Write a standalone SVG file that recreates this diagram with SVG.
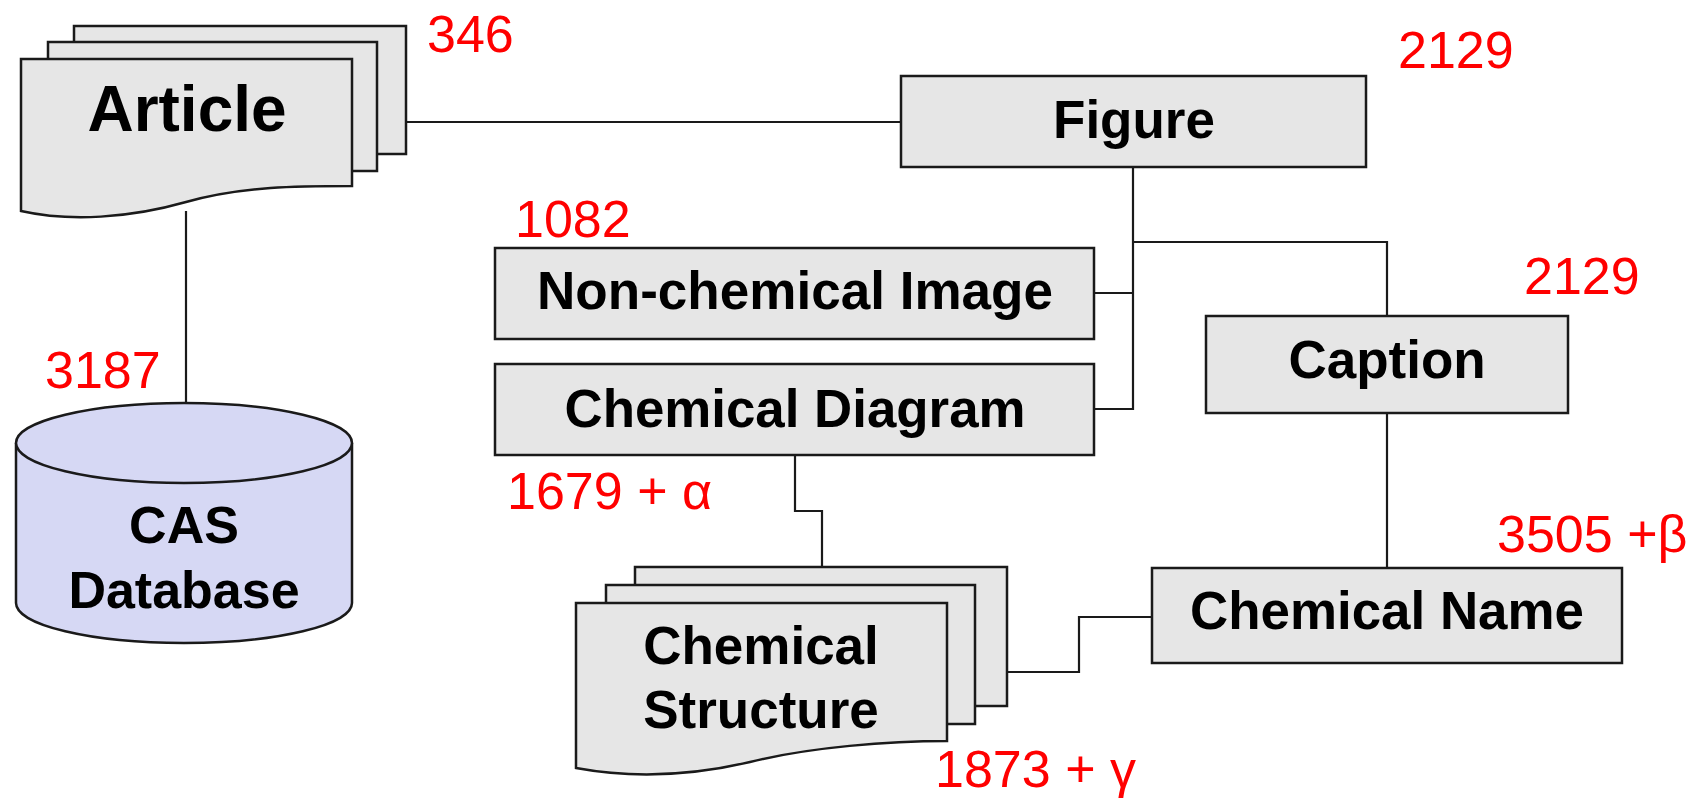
<svg xmlns="http://www.w3.org/2000/svg" width="1693" height="799" viewBox="0 0 1693 799">
<style>
.box{fill:#e6e6e6;stroke:#1a1a1a;stroke-width:2.5}
.cyl{fill:#d6d8f4;stroke:#1a1a1a;stroke-width:2.5}
.t{font-family:"Liberation Sans",Arial,sans-serif;font-weight:bold;font-size:53px;fill:#000;text-anchor:middle}
.n{font-family:"Liberation Sans",Arial,sans-serif;font-size:52px;fill:#ff0000}
.c{fill:none;stroke:#1a1a1a;stroke-width:2.2}
</style>
<rect width="1693" height="799" fill="#ffffff"/>
<g id="connectors">
<polyline class="c" points="406,122 902,122"/>
<polyline class="c" points="186,211 186,403"/>
<polyline class="c" points="1133,167 1133,409 1094,409"/>
<polyline class="c" points="1094,293 1133,293"/>
<polyline class="c" points="1133,242 1387,242 1387,316"/>
<polyline class="c" points="1387,413 1387,568"/>
<polyline class="c" points="795,455 795,511 822,511 822,567"/>
<polyline class="c" points="1007,672 1079,672 1079,617 1152,617"/>
</g>
<g id="article">
<rect class="box" x="74" y="26" width="332" height="128"/>
<rect class="box" x="48" y="42" width="329" height="129"/>
<path class="box" d="M21,59 H352 V186 C300,186 242,186 186,202 C130,218 70,222 21,211 Z"/>
<text class="t" x="187" y="131" style="font-size:64px">Article</text>
<text class="n" x="427" y="52">346</text>
</g>
<g id="cas-database">
<path class="cyl" d="M16,443 V603 A168,40 0 0 0 352,603 V443"/>
<ellipse class="cyl" cx="184" cy="443" rx="168" ry="40"/>
<text class="t" x="184" y="543" style="font-size:52px">CAS</text>
<text class="t" x="184" y="608" style="font-size:52px">Database</text>
<text class="n" x="45" y="388">3187</text>
</g>
<g id="figure">
<rect class="box" x="901" y="76" width="465" height="91"/>
<text class="t" x="1134" y="138">Figure</text>
<text class="n" x="1398" y="68">2129</text>
</g>
<g id="non-chemical-image">
<rect class="box" x="495" y="248" width="599" height="91"/>
<text class="t" x="795" y="309" textLength="516" lengthAdjust="spacingAndGlyphs">Non-chemical Image</text>
<text class="n" x="515" y="237">1082</text>
</g>
<g id="chemical-diagram">
<rect class="box" x="495" y="364" width="599" height="91"/>
<text class="t" x="795" y="427" textLength="461" lengthAdjust="spacingAndGlyphs">Chemical Diagram</text>
<text class="n" x="507" y="509">1679 + α</text>
</g>
<g id="caption">
<rect class="box" x="1206" y="316" width="362" height="97"/>
<text class="t" x="1387" y="378">Caption</text>
<text class="n" x="1524" y="294">2129</text>
</g>
<g id="chemical-name">
<rect class="box" x="1152" y="568" width="470" height="95"/>
<text class="t" x="1387" y="629" textLength="394" lengthAdjust="spacingAndGlyphs">Chemical Name</text>
<text class="n" x="1497" y="552">3505 +β</text>
</g>
<g id="chemical-structure">
<rect class="box" x="635" y="567" width="372" height="139"/>
<rect class="box" x="606" y="585" width="369" height="139"/>
<path class="box" d="M576,603 H947 V741 C890,741 810,747 750,762 C690,776 630,778 576,768 Z"/>
<text class="t" x="761" y="664">Chemical</text>
<text class="t" x="761" y="728">Structure</text>
<text class="n" x="935" y="787">1873 + γ</text>
</g>
</svg>
